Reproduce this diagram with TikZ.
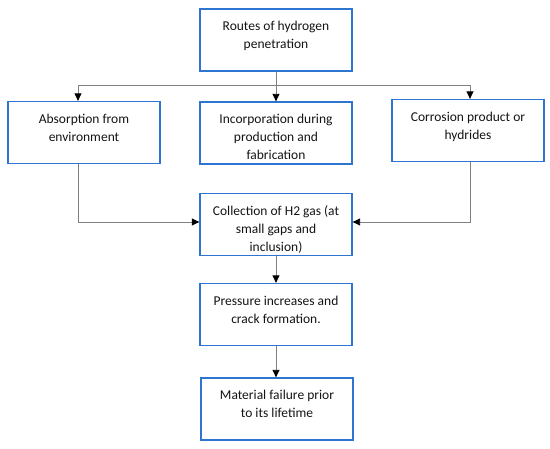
\documentclass[tikz,border=0pt]{standalone}
\usepackage{fontspec}
\setmainfont{Carlito}
\usetikzlibrary{arrows.meta}
\definecolor{boxblue}{RGB}{46,117,210}
\definecolor{linegray}{RGB}{128,128,128}
\definecolor{txt}{RGB}{20,20,20}
\newcommand{\bxt}[1]{\parbox[c][62pt][t]{150pt}{\centering\fontsize{13.5pt}{18pt}\selectfont\color{txt}\vspace*{12.5pt}#1\par}}
\tikzset{
  flowbox/.style={draw=boxblue, line width=1.3pt, inner sep=0pt, minimum width=152pt, minimum height=62pt},
  conn/.style={draw=linegray, line width=0.9pt},
  arr/.style={conn, -{Triangle[length=7.5pt,width=7pt,black]}}
}
\begin{document}
\begin{tikzpicture}[x=1pt,y=-1pt]
\useasboundingbox (0,0) rectangle (550,449);
\node[flowbox] (top) at (276,40) {\bxt{Routes of hydrogen\\penetration}};
\node[flowbox] (left) at (84,132.5) {\bxt{Absorption from\\environment}};
\node[flowbox] (mid) at (276,133) {\bxt{Incorporation during\\production and\\fabrication}};
\node[flowbox] (right) at (468,130.5) {\bxt{Corrosion product or\\hydrides}};
\node[flowbox] (coll) at (276,224.5) {\bxt{Collection of H2 gas (at\\small gaps and\\inclusion)}};
\node[flowbox] (press) at (276,314.5) {\bxt{Pressure increases and\\crack formation.}};
\node[flowbox] (mat) at (277,409) {\bxt{Material failure prior\\to its lifetime}};
\coordinate (jl) at (78,85);
\coordinate (jr) at (470,85);
\draw[conn] (jl) -- (jr);
\draw[arr] (top.south) -- (mid.north);
\draw[arr] (jl) -- (jl |- left.north);
\draw[arr] (jr) -- (jr |- right.north);
\draw[arr] (jl |- left.south) |- ([yshift=2.5pt]coll.west);
\draw[arr] (jr |- right.south) |- ([yshift=2.5pt]coll.east);
\draw[arr] (coll.south) -- (press.north);
\draw[arr] (press.south) -- (press.south |- mat.north);
\end{tikzpicture}
\end{document}
